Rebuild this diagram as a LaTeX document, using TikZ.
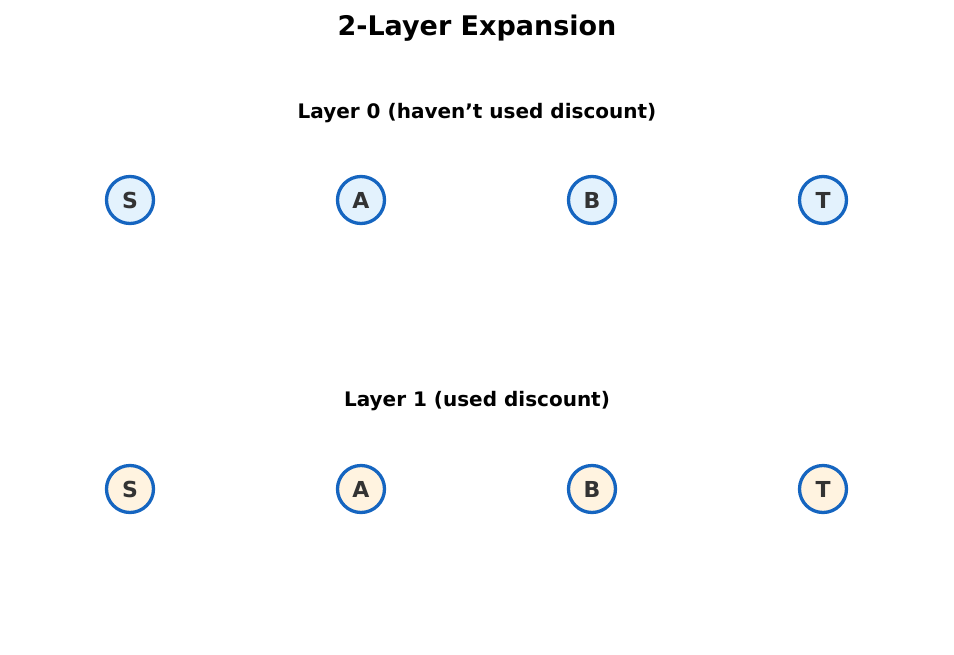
\documentclass[tikz,border=0pt]{standalone}
\usepackage{fontspec}
\setmainfont{DejaVu Sans}
\definecolor{edge}{HTML}{1565C0}
\definecolor{fillA}{HTML}{E3F2FD}
\definecolor{fillB}{HTML}{FFF3E0}
\definecolor{txt}{HTML}{333333}
\begin{document}
\begin{tikzpicture}[x=1pt,y=-1pt,
  vtx/.style={circle,draw=edge,line width=3.3pt,minimum size=47pt,inner sep=0pt,text=txt,font=\fontsize{22}{22}\selectfont\bfseries},
  l0/.style={vtx,fill=fillA},
  l1/.style={vtx,fill=fillB},
  lbl/.style={font=\fontsize{20}{20}\selectfont\bfseries}]
\useasboundingbox (0,0) rectangle (954,654);
\node[font=\fontsize{27}{27}\selectfont\bfseries] (title) at (477,28) {2-Layer Expansion};
\node[lbl] (lab0) at (477,113) {Layer 0 (haven't used discount)};
\node[lbl] (lab1) at (477,401) {Layer 1 (used discount)};
\foreach \n/\x in {S/130,A/361,B/592,T/823}{
  \node[l0] (\n0) at (\x,200) {\n};
  \node[l1] (\n1) at (\x,489) {\n};
}
\end{tikzpicture}
\end{document}
